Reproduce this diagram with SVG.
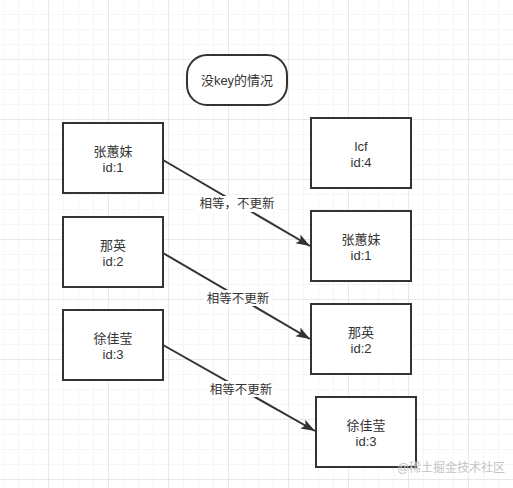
<svg xmlns="http://www.w3.org/2000/svg" width="513" height="488" viewBox="0 0 513 488">
<style>
.box{fill:#fff;stroke:#333;stroke-width:2}
.t{font-family:"Liberation Sans","Noto Sans CJK SC",sans-serif;font-size:13px;fill:#333;text-anchor:middle}
.lbl{font-family:"Liberation Sans","Noto Sans CJK SC",sans-serif;font-size:12.5px;fill:#333;text-anchor:middle}
.edge{stroke:#333;stroke-width:2;fill:none}
</style>
<defs>
<pattern id="minor" patternUnits="userSpaceOnUse" x="3" y="14" width="15" height="15">
<path d="M0 0V15M0 0H15" stroke="#eeeeee" stroke-width="1" fill="none"/>
</pattern>
<pattern id="major" patternUnits="userSpaceOnUse" x="48" y="59" width="60" height="60">
<path d="M0 0V60M0 0H60" stroke="#dcdcdc" stroke-width="1" fill="none"/>
</pattern>
<marker id="arr" markerUnits="userSpaceOnUse" markerWidth="16" markerHeight="12" refX="14" refY="5" orient="auto">
<path d="M0 0L14 5L0 10L3 5Z" fill="#333"/>
</marker>
</defs>
<rect width="513" height="488" fill="#fff"/>
<rect width="513" height="488" fill="url(#minor)"/>
<rect width="513" height="488" fill="url(#major)"/>

<g id="connectors">
<line class="edge" x1="163" y1="160" x2="310" y2="246" marker-end="url(#arr)"/>
<line class="edge" x1="163" y1="253" x2="310" y2="339" marker-end="url(#arr)"/>
<line class="edge" x1="163" y1="345" x2="315" y2="431" marker-end="url(#arr)"/>
<rect x="196" y="196" width="82" height="16" fill="#fff"/>
<text class="lbl" x="237" y="208">相等，不更新</text>
<rect x="204" y="290" width="67" height="16" fill="#fff"/>
<text class="lbl" x="238" y="302.5">相等不更新</text>
<rect x="207" y="381" width="67" height="16" fill="#fff"/>
<text class="lbl" x="241" y="393.5">相等不更新</text>
</g>

<g id="title">
<rect class="box" x="187" y="55" width="100" height="50" rx="20" ry="20"/>
<text class="t" x="237" y="85">没key的情况</text>
</g>

<g id="left1">
<rect class="box" x="63" y="123" width="100" height="70"/>
<text class="t" x="113" y="156">张蕙妹</text>
<text class="t" x="113" y="172">id:1</text>
</g>
<g id="left2">
<rect class="box" x="63" y="217" width="100" height="70"/>
<text class="t" x="113" y="250">那英</text>
<text class="t" x="113" y="266">id:2</text>
</g>
<g id="left3">
<rect class="box" x="63" y="310" width="100" height="70"/>
<text class="t" x="113" y="343">徐佳莹</text>
<text class="t" x="113" y="359">id:3</text>
</g>

<g id="right0">
<rect class="box" x="311" y="118" width="100" height="70"/>
<text class="t" x="361" y="151">lcf</text>
<text class="t" x="361" y="167">id:4</text>
</g>
<g id="right1">
<rect class="box" x="311" y="211" width="100" height="70"/>
<text class="t" x="361" y="244">张蕙妹</text>
<text class="t" x="361" y="260">id:1</text>
</g>
<g id="right2">
<rect class="box" x="311" y="304" width="100" height="70"/>
<text class="t" x="361" y="337">那英</text>
<text class="t" x="361" y="353">id:2</text>
</g>
<g id="right3">
<rect class="box" x="316" y="397" width="100" height="70"/>
<text class="t" x="366" y="430">徐佳莹</text>
<text class="t" x="366" y="446">id:3</text>
</g>

<text x="451" y="472" font-family="Liberation Sans,'Noto Sans CJK SC',sans-serif" font-size="12" fill="#c4c4c4" text-anchor="middle">@稀土掘金技术社区</text>
</svg>
